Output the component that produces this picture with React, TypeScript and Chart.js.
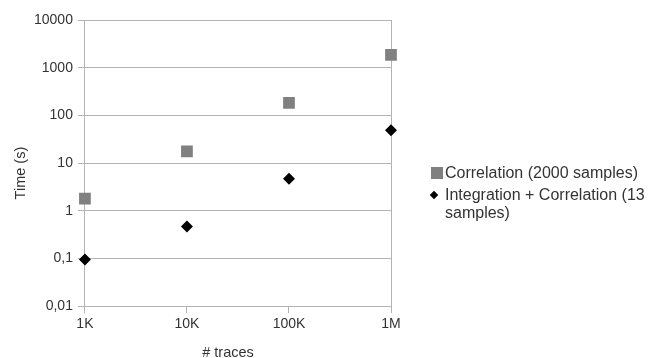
import React, { useEffect, useRef } from "react";
import { Chart, registerables } from "chart.js";

Chart.register(...registerables);

const categories = ["1K", "10K", "100K", "1M"];
const correlation = [1.8, 17.6, 184, 1850];
const integration = [0.095, 0.47, 4.7, 49];
const yTicks = [0.01, 0.1, 1, 10, 100, 1000, 10000];
const seriesNames = ["Correlation (2000 samples)", "Integration + Correlation (13 samples)"];
const xTitle = "# traces";
const yTitle = "Time (s)";

const FONT = "'Liberation Sans', Arial, sans-serif";
const GRID = "#b3b3b3";
const TEXT = "#333333";

const titlePlugin = {
  id: "axisTitles",
  afterDraw(chart: any) {
    const { ctx, chartArea } = chart;
    ctx.save();
    ctx.fillStyle = TEXT;
    ctx.font = `14.5px ${FONT}`;
    ctx.textAlign = "center";
    ctx.textBaseline = "middle";
    ctx.fillText(xTitle, (chartArea.left + chartArea.right) / 2 - 10, chartArea.bottom + 47);
    ctx.translate(chartArea.left - 64, (chartArea.top + chartArea.bottom) / 2 + 10);
    ctx.rotate(-Math.PI / 2);
    ctx.fillText(yTitle, 0, 0);
    ctx.restore();
  },
};

export default function App() {
  const ref = useRef<HTMLCanvasElement>(null);
  useEffect(() => {
    if (!ref.current) return;
    const chart = new Chart(ref.current, {
      type: "line",
      data: {
        labels: categories,
        datasets: [
          {
            label: seriesNames[0],
            data: correlation,
            showLine: false,
            pointStyle: "rect",
            pointRadius: 8.3,
            pointHoverRadius: 8.3,
            pointBorderWidth: 0,
            backgroundColor: "#808080",
            borderColor: "#808080",
          },
          {
            label: seriesNames[1],
            data: integration,
            showLine: false,
            pointStyle: "rectRot",
            pointRadius: 6,
            pointHoverRadius: 6,
            pointBorderWidth: 0,
            backgroundColor: "#000000",
            borderColor: "#000000",
          },
        ],
      },
      options: {
        responsive: false,
        animation: false,
        layout: { padding: { left: 29, top: 20, right: 257, bottom: 22 } },
        plugins: { legend: { display: false }, tooltip: { enabled: false } },
        scales: {
          x: {
            type: "category",
            offset: false,
            grid: {
              color: (c: any) => (c.index === 0 || c.index === categories.length - 1 ? GRID : "rgba(0,0,0,0)"),
              tickColor: GRID,
              tickLength: 7,
            },
            border: { color: GRID },
            ticks: { color: TEXT, font: { family: FONT, size: 14 }, padding: 3, maxRotation: 0 },
          },
          y: {
            type: "logarithmic",
            min: 0.01,
            max: 10000,
            afterBuildTicks: (scale: any) => {
              scale.ticks = yTicks.map((v) => ({ value: v }));
            },
            grid: { color: GRID, tickColor: GRID, tickLength: 7 },
            border: { color: GRID },
            ticks: {
              color: TEXT,
              font: { family: FONT, size: 14 },
              padding: 5,
              callback: (v: any) => String(v).replace(".", ","),
            },
          },
        },
      },
      plugins: [titlePlugin],
    });
    return () => chart.destroy();
  }, []);

  const textStyle: React.CSSProperties = {
    position: "absolute",
    left: 445,
    fontFamily: FONT,
    fontSize: 16,
    lineHeight: "18px",
    color: TEXT,
    whiteSpace: "nowrap",
  };

  return (
    <div style={{ position: "absolute", left: 0, top: 0, width: 648, height: 358, background: "#fff" }}>
      <canvas ref={ref} width={648} height={358} style={{ display: "block" }} />
      <div style={{ position: "absolute", left: 431, top: 167, width: 12, height: 12, background: "#808080" }} />
      <div style={{ ...textStyle, top: 164 }}>{seriesNames[0]}</div>
      <div
        style={{
          position: "absolute",
          left: 431,
          top: 192,
          width: 6,
          height: 6,
          background: "#000",
          transform: "rotate(45deg)",
        }}
      />
      <div style={{ ...textStyle, top: 186, width: 200, whiteSpace: "normal" }}>{seriesNames[1]}</div>
    </div>
  );
}
